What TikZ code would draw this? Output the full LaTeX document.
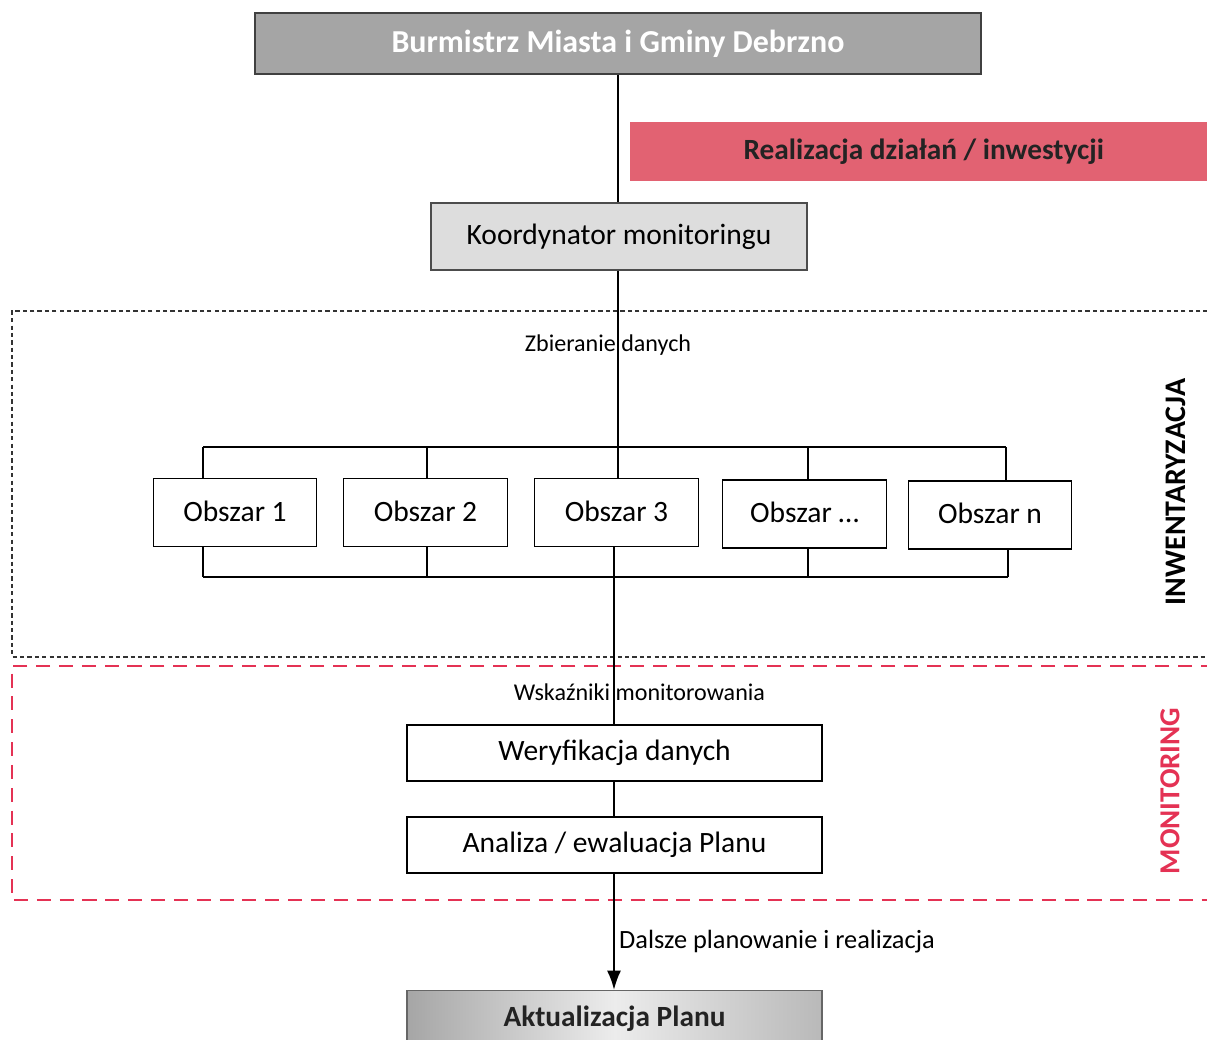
\documentclass[tikz,border=0pt]{standalone}
\usepackage{fontspec}
\setmainfont{Carlito}
\usetikzlibrary{arrows.meta,calc}
\definecolor{SzaryBurm}{RGB}{165,165,165}
\definecolor{SzaryKoord}{RGB}{221,221,221}
\definecolor{RozowyPas}{RGB}{226,98,114}
\definecolor{CzerwonyMon}{RGB}{228,50,84}
\definecolor{TekstCiemny}{RGB}{35,35,35}

\begin{document}
\begin{tikzpicture}[>=Latex,x=0.02cm,y=-0.02cm,
  pole/.style={draw,line width=0.8pt,minimum width=3.27cm,minimum height=1.36cm,font=\fontsize{16.8}{20}\selectfont},
  podpis/.style={font=\fontsize{13.7}{16}\selectfont}]
  \useasboundingbox (0,0) rectangle (1207,1039);
  % ramki przerywane
  \draw[dash pattern=on 2.4pt off 1.8pt,line width=0.6pt,black!80] (1215,311) -- (12,311) -- (12,657) -- (1215,657);
  \draw[dash pattern=on 8pt off 5pt,line width=1.4pt,CzerwonyMon] (1215,666) -- (12,666) -- (12,900) -- (1215,900);
  \node[rotate=90,font=\fontsize{17}{20}\selectfont\bfseries] (inw) at (1176,492) {INWENTARYZACJA};
  \node[rotate=90,font=\fontsize{16.5}{20}\selectfont\bfseries,text=CzerwonyMon] (mon) at (1170,791) {MONITORING};
  % gora
  \node[draw=black!75,line width=1pt,fill=SzaryBurm,minimum width=14.52cm,minimum height=1.22cm,
        text=white,font=\fontsize{18.2}{21}\selectfont\bfseries] (burm) at (618,43.5) {Burmistrz Miasta i Gminy Debrzno};
  \node[fill=RozowyPas,minimum width=11.54cm,minimum height=1.18cm,text=TekstCiemny,
        font=\fontsize{16.7}{19}\selectfont\bfseries] (real) at (918.5,151.5) {\hspace{6pt}Realizacja działań / inwestycji};
  \node[pole,fill=SzaryKoord,draw=black!70,minimum width=7.52cm,minimum height=1.34cm] (koord) at (619,236.5) {Koordynator monitoringu};
  \draw[line width=0.9pt] (burm.south) -- (burm.south |- koord.north);
  % obszary
  \node[pole] (ob1) at (235,512.5) {\raisebox{2pt}{Obszar 1}};
  \node[pole] (ob2) at (425.5,512.5) {\raisebox{2pt}{Obszar 2}};
  \node[pole] (ob3) at (616.5,512.5) {\raisebox{2pt}{Obszar 3}};
  \node[pole] (ob4) at (804.5,514) {\raisebox{2pt}{Obszar \dots}};
  \node[pole] (ob5) at (990,515) {\raisebox{2pt}{Obszar n}};
  \coordinate (szynaG) at (618,447);
  \coordinate (szynaD) at (614,577);
  \draw[line width=0.9pt] (koord.south -| szynaG) -- (szynaG) node[pos=0.42,podpis,xshift=-5.7pt] (zbier) {Zbieranie danych};
  \foreach \i/\x in {1/203,2/427,3/618,4/808,5/1006}
    \draw[line width=0.8pt] (\x,0 |- szynaG) -- (\x,0 |- ob\i.north);
  \foreach \i/\x in {1/203,2/427,3/614,4/808,5/1008}
    \draw[line width=0.8pt] (\x,0 |- ob\i.south) -- (\x,0 |- szynaD);
  \draw[line width=0.8pt] (203,0 |- szynaG) -- (1006,0 |- szynaG);
  \draw[line width=0.8pt] (203,0 |- szynaD) -- (1008,0 |- szynaD);
  % monitoring
  \node[pole,minimum width=8.3cm,minimum height=1.12cm] (weryf) at (614.5,753) {Weryfikacja danych};
  \node[pole,minimum width=8.3cm,minimum height=1.12cm] (anal) at (614.5,845) {Analiza / ewaluacja Planu};
  \draw[line width=0.9pt] (szynaD) -- (szynaD |- weryf.north) node[pos=0.78,podpis,xshift=14.5pt] (wsk) {Wskaźniki monitorowania};
  \draw[line width=0.9pt] (weryf.south -| szynaD) -- (anal.north -| szynaD);
  % aktualizacja
  \node[draw=black!60,line width=0.8pt,left color=gray!70,right color=gray!55,middle color=gray!15,
        minimum width=8.3cm,minimum height=1.3cm,text=TekstCiemny,font=\fontsize{16.7}{20}\selectfont\bfseries,
        text depth=0pt,anchor=north] (aktual) at (614.5,990) {\raisebox{0.27cm}{Aktualizacja Planu}};
  \draw[-{Latex[length=11pt,width=8pt]},line width=1.3pt] (anal.south -| szynaD) -- (aktual.north -| szynaD)
    node[pos=0.58,right=-1pt,font=\fontsize{15}{18}\selectfont] (dalsze) {Dalsze planowanie i realizacja};
\end{tikzpicture}
\end{document}
